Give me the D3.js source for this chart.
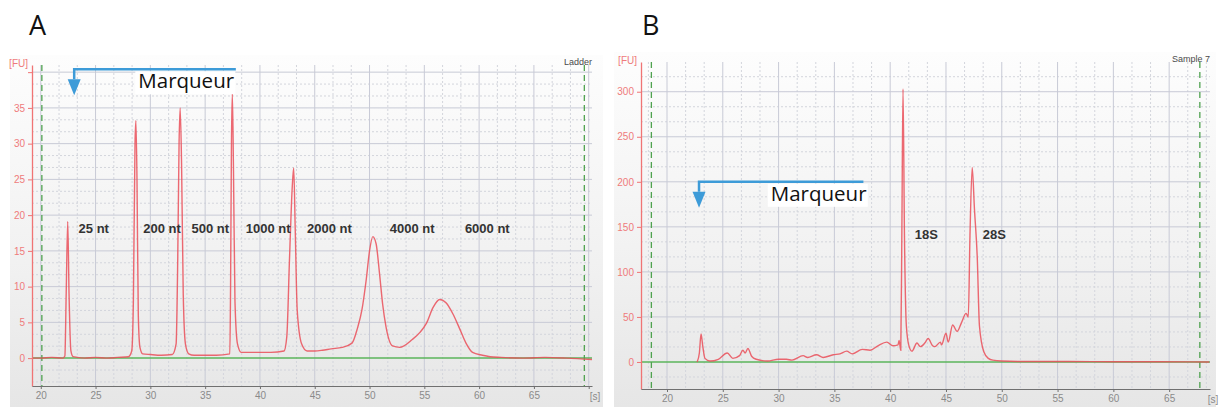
<!DOCTYPE html>
<html>
<head>
<meta charset="utf-8">
<script src="https://cdn.jsdelivr.net/npm/d3@7"></script>
<style>
  body { margin: 0; background: #fff; }
  svg { display: block; }
</style>
</head>
<body>
<svg id="chart" width="1220" height="407"></svg>
<script>
// ---- data ----
// panel A : RNA ladder, time [s] vs fluorescence [FU]
const ladderTime = [19.3, 20, 21, 22.0, 22.2, 22.32, 22.46, 22.58, 22.75, 22.95, 24, 25, 26, 27, 28.0, 28.3, 28.45, 28.6, 28.68, 28.78, 28.9, 29.05, 29.3, 30, 31, 32.0, 32.35, 32.5, 32.62, 32.72, 32.85, 33.0, 33.2, 33.5, 34, 35, 36, 37.25, 37.32, 37.4, 37.48, 37.58, 37.72, 37.95, 38.3, 39, 40, 41, 42.2, 42.45, 42.7, 42.95, 43.08, 43.22, 43.4, 43.8, 44.3, 45, 45.7, 46.5, 47.5, 48.4, 48.9, 49.3, 49.7, 50.0, 50.3, 50.6, 50.9, 51.2, 51.5, 52.1, 52.75, 53.9, 54.6, 55.2, 55.8, 56.4, 57.0, 57.6, 58.2, 58.8, 59.4, 60.3, 61, 62, 64, 66, 68, 70.3];
const ladderFU   = [0, 0, 0.1, 0, 0.3, 9, 19.1, 9, 1, 0.2, 0, 0.1, 0, 0.1, 0.2, 1, 8, 30, 33.2, 25, 6, 1.5, 0.6, 0.5, 0.4, 0.5, 2, 14, 30, 35, 27, 9, 2, 0.6, 0.4, 0.4, 0.4, 0.6, 10, 30, 37, 27, 8, 2, 0.8, 0.8, 0.8, 0.8, 1.0, 3, 14, 24, 26.6, 18, 6.7, 2, 1, 1.0, 1.1, 1.3, 1.5, 2.1, 4.2, 6.7, 11, 15, 17, 16, 12, 7.5, 4.4, 1.7, 1.5, 2.6, 3.6, 4.9, 7.1, 8.2, 7.7, 6.2, 4.2, 2.1, 0.8, 0.4, 0.2, 0.1, 0, 0.1, 0, -0.2];

// panel B : sample 7, time [s] vs fluorescence [FU]
const sampleTime = [22.7, 22.9, 23.05, 23.2, 23.4, 23.85, 24.6, 25.4, 25.9, 26.5, 26.8, 27.0, 27.25, 27.6, 28.0, 29.0, 30.0, 30.7, 31.2, 32.2, 32.6, 33.4, 34.0, 34.9, 35.5, 36.1, 36.6, 37.5, 38.2, 38.9, 39.7, 40.25, 40.7, 40.8, 40.95, 41.05, 41.15, 41.28, 41.45, 41.7, 41.95, 42.4, 42.7, 43.1, 43.4, 43.8, 44.0, 44.5, 44.6, 45.0, 45.2, 45.6, 46.0, 46.4, 46.8, 47.0, 47.15, 47.35, 47.55, 47.8, 48.0, 48.4, 48.8, 49.2, 50, 52, 56, 60, 64, 68.6];
const sampleFU   = [0, 10, 31, 18, 4, 1, 3, 10, 4, 7, 13, 10, 15, 6, 3, 1, 3, 3, 2, 7, 5, 8, 5, 8, 9, 12, 9, 14, 13, 18, 22, 18, 19, 24, 13, 150, 303, 140, 40, 17, 12, 21, 17, 21, 26, 18, 17, 22, 19, 32, 22, 41, 34, 44, 54, 50, 140, 216, 170, 117, 40, 11, 4, 2, 1, 0.5, 0.5, 0.3, 0.3, 0];

const xTicks = [20, 25, 30, 35, 40, 45, 50, 55, 60, 65];
const xTicksA = [20, 25, 30, 35, 40, 45, 50, 55, 60, 65, 70];
const yTicksA = [0, 5, 10, 15, 20, 25, 30, 35, 40];
const yTicksB = [0, 50, 100, 150, 200, 250, 300];

const ladderNames = ["25 nt", "200 nt", "500 nt", "1000 nt", "2000 nt", "4000 nt", "6000 nt"];
const ladderNameTime = [23.45, 29.35, 33.75, 38.7, 44.3, 51.85, 58.7];
const sampleNames = ["18S", "28S"];
const sampleNameTime = [42.2, 48.3];

// ---- drawing ----
const svg = d3.select("#chart");

const grad = svg.append("defs").append("linearGradient")
  .attr("id", "bg").attr("x1", 0).attr("y1", 0).attr("x2", 0).attr("y2", 1);
grad.append("stop").attr("offset", "0%").attr("stop-color", "#fdfdfd");
grad.append("stop").attr("offset", "55%").attr("stop-color", "#f2f2f2");
grad.append("stop").attr("offset", "100%").attr("stop-color", "#e6e6e6");

function drawPanel(p) {
  const g = svg.append("g");

  g.append("rect")
    .attr("x", p.box[0]).attr("y", p.box[1])
    .attr("width", p.box[2] - p.box[0]).attr("height", p.box[3] - p.box[1])
    .attr("fill", "url(#bg)");

  const x = d3.scaleLinear().domain(p.xDomain).range([p.left, p.right]);
  const y = d3.scaleLinear().domain(p.yDomain).range([p.bottom, p.top]);

  // minor (dotted) grid, thirds of the major step
  const xMinor = d3.range(15, 75, 5 / 3).filter(v => v > p.xDomain[0] && v < p.xDomain[1] && Math.abs(v / 5 - Math.round(v / 5)) > 0.01);
  const yMinor = d3.range(p.yDomain[0] - (p.yDomain[0] % p.yStep) - p.yStep, p.yDomain[1], p.yStep / 3)
    .filter(v => v > p.yDomain[0] && v < p.yDomain[1] && Math.abs(v / p.yStep - Math.round(v / p.yStep)) > 0.01);

  g.selectAll(".vminor").data(xMinor).join("line")
    .attr("x1", d => x(d)).attr("x2", d => x(d))
    .attr("y1", p.top).attr("y2", p.bottom)
    .attr("stroke", "#d3d5dc").attr("stroke-dasharray", "2,2");
  g.selectAll(".hminor").data(yMinor).join("line")
    .attr("x1", p.left).attr("x2", p.right)
    .attr("y1", d => y(d)).attr("y2", d => y(d))
    .attr("stroke", "#d3d5dc").attr("stroke-dasharray", "2,2");

  // major grid
  g.selectAll(".vmajor").data(xTicksA.filter(v => v > p.xDomain[0] && v < p.xDomain[1])).join("line")
    .attr("x1", d => x(d)).attr("x2", d => x(d))
    .attr("y1", p.top).attr("y2", p.bottom)
    .attr("stroke", "#c8cad6");
  g.selectAll(".hmajor").data(p.yTicks.filter(v => v > 0 && v < p.yDomain[1])).join("line")
    .attr("x1", p.left).attr("x2", p.right)
    .attr("y1", d => y(d)).attr("y2", d => y(d))
    .attr("stroke", "#c8cad6");

  // green baseline and dashed run limits
  g.append("line")
    .attr("x1", p.left).attr("x2", p.right)
    .attr("y1", y(0)).attr("y2", y(0))
    .attr("stroke", "#5bb55b").attr("stroke-width", 1.5);
  g.selectAll(".limit").data(p.limits).join("line")
    .attr("x1", d => x(d)).attr("x2", d => x(d))
    .attr("y1", p.top).attr("y2", p.bottom)
    .attr("stroke", "#4fa24f").attr("stroke-width", 1.3).attr("stroke-dasharray", "6,4");

  // axes
  const yAxis = g.append("g")
    .attr("transform", `translate(${p.left},0)`)
    .call(d3.axisLeft(y).tickValues(p.yTicks).tickSize(4).tickSizeOuter(0)
      .tickFormat(d => d === p.yTicks[p.yTicks.length - 1] && p.hideTop ? "" : d));
  yAxis.select(".domain").attr("stroke", "#f07474").attr("stroke-width", 1.3);
  yAxis.selectAll(".tick line").attr("stroke", "#f07474");
  yAxis.selectAll(".tick text").attr("fill", "#ef7b7b")
    .style("font", "10px 'Liberation Sans', Arial, sans-serif");

  const xAxis = g.append("g")
    .attr("transform", `translate(0,${p.bottom})`)
    .call(d3.axisBottom(x).tickValues(p.xTicks).tickSize(3).tickSizeOuter(0).tickFormat(d => d < 68 ? d : ""));
  xAxis.select(".domain").attr("stroke", "#707070").attr("stroke-width", 1.2);
  xAxis.selectAll(".tick line").attr("stroke", "#707070");
  xAxis.selectAll(".tick text").attr("fill", "#8a8a8a")
    .style("font", "10px 'Liberation Sans', Arial, sans-serif");

  g.append("text").attr("x", p.right + 3).attr("y", p.bottom + 14)
    .attr("text-anchor", "middle").attr("fill", "#8a8a8a")
    .style("font", "10px 'Liberation Sans', Arial, sans-serif").text("[s]");
  g.append("text").attr("x", p.left - 4).attr("y", p.top + 2)
    .attr("text-anchor", "end").attr("fill", "#ef7b7b")
    .style("font", "10px 'Liberation Sans', Arial, sans-serif").text("[FU]");
  g.append("text").attr("x", p.right).attr("y", p.top)
    .attr("text-anchor", "end").attr("fill", "#4a4a4a")
    .style("font", "9px 'Liberation Sans', Arial, sans-serif").text(p.corner);

  // trace
  const line = d3.line()
    .x((d, i) => x(p.times[i]))
    .y(d => y(d))
    .curve(d3.curveMonotoneX);
  g.append("path")
    .datum(p.values)
    .attr("fill", "none")
    .attr("stroke", "#ea4f59").attr("stroke-opacity", 0.85)
    .attr("stroke-width", 1.4)
    .attr("d", line);

  // peak names
  g.selectAll(".peakname").data(p.names).join("text")
    .attr("x", (d, i) => x(p.nameTimes[i]))
    .attr("y", y(p.nameFU))
    .attr("fill", "#333")
    .style("font", "bold 13px 'Liberation Sans', Arial, sans-serif")
    .text(d => d);

  // "Marqueur" annotation
  const m = p.marker;
  const mx0 = x(m.t0), mx1 = x(m.t1), my = y(m.fu);
  g.append("path")
    .attr("d", `M${mx1},${my}H${mx0}V${my + 10}`)
    .attr("fill", "none").attr("stroke", "#3d9bd8").attr("stroke-width", 2.5);
  g.append("path")
    .attr("d", `M${mx0 - 6.5},${my + 10}H${mx0 + 6.5}L${mx0},${my + 26}Z`)
    .attr("fill", "#3d9bd8");
  const tx = x(m.textT);
  g.append("rect")
    .attr("x", tx - 3).attr("y", my + 2).attr("width", 100).attr("height", 23)
    .attr("fill", "#fff");
  g.append("text")
    .attr("x", tx).attr("y", my + 19)
    .attr("fill", "#111")
    .style("font", "20.5px 'Open Sans', sans-serif")
    .text("Marqueur");

  g.append("text")
    .attr("x", p.letterX).attr("y", 35)
    .attr("fill", "#111")
    .style("font", "27px 'Open Sans', sans-serif")
    .text(p.letter);
}

drawPanel({
  letter: "A", letterX: 29, corner: "Ladder",
  box: [10, 55, 603, 407],
  left: 32, right: 592, top: 65, bottom: 386,
  xDomain: [19.2, 70.3], yDomain: [-3.9, 41], yStep: 5,
  xTicks: xTicksA, yTicks: yTicksA, hideTop: true,
  limits: [20.1, 69.6],
  times: ladderTime, values: ladderFU,
  names: ladderNames, nameTimes: ladderNameTime, nameFU: 17.5,
  marker: { t0: 23.05, t1: 37.8, fu: 40.4, textT: 28.9 }
});

drawPanel({
  letter: "B", letterX: 642, corner: "Sample 7",
  box: [614, 52, 1216, 407],
  left: 641, right: 1210, top: 62, bottom: 389,
  xDomain: [17.67, 68.66], yDomain: [-30, 333], yStep: 50,
  xTicks: xTicks, yTicks: yTicksB, hideTop: false,
  limits: [18.6, 67.75],
  times: sampleTime, values: sampleFU,
  names: sampleNames, nameTimes: sampleNameTime, nameFU: 136,
  marker: { t0: 22.87, t1: 37.6, fu: 200, textT: 29.3 }
});
</script>
</body>
</html>
